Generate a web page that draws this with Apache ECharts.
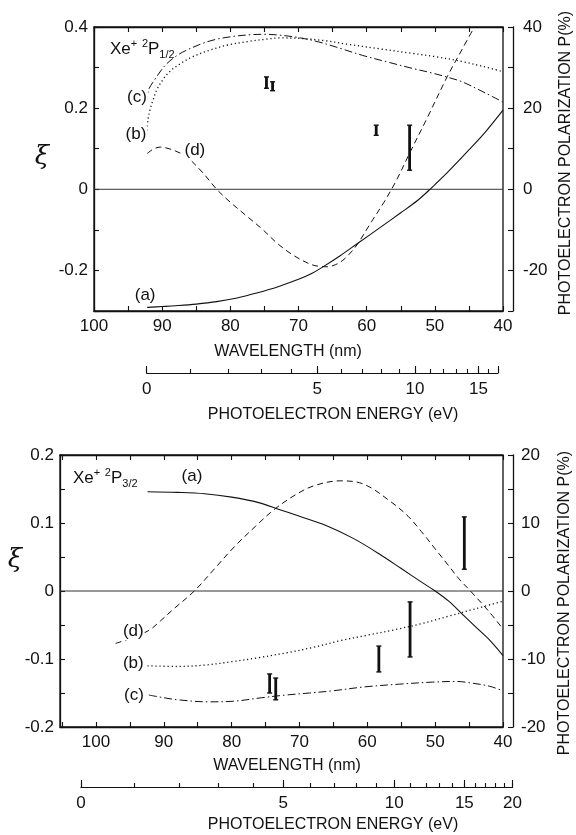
<!DOCTYPE html>
<html><head><meta charset="utf-8">
<script src="https://cdn.jsdelivr.net/npm/echarts@6/dist/echarts.min.js"></script>
<style>html,body{margin:0;padding:0;background:#fff}#c{width:576px;height:835px}</style>
</head><body><div id="c"></div>
<script>
// ---------- data (wavelength nm, xi) ----------
// Top panel: Xe+ 2P1/2
const topWlA = [92.2, 90, 88, 85, 82, 79, 76, 73, 70, 68, 66.3, 64, 61.3, 58, 55, 52.5, 50.7, 48, 45, 42.5, 40];
const topXiA = [-0.291, -0.289, -0.287, -0.283, -0.277, -0.268, -0.255, -0.240, -0.222, -0.207, -0.190, -0.165, -0.133, -0.094, -0.058, -0.027, 0.0, 0.044, 0.097, 0.143, 0.195];
const topWlB = [92.3, 92.1, 91.8, 91.3, 90.8, 89.9, 88.9, 87.3, 85.5, 83, 80.5, 77.5, 74.7, 72.8, 69.8, 66, 63, 58, 53.3, 50, 46, 43, 40];
const topXiB = [0.135, 0.170, 0.195, 0.222, 0.245, 0.270, 0.290, 0.310, 0.327, 0.343, 0.355, 0.364, 0.370, 0.373, 0.372, 0.366, 0.358, 0.346, 0.335, 0.327, 0.315, 0.303, 0.290];
const topWlC = [92.3, 92.0, 91.1, 90.2, 89.3, 87.8, 86.4, 84, 82, 79.5, 77, 75, 72.8, 70, 67, 64, 60.6, 57, 53.3, 50.5, 48.3, 46, 43.5, 41.5, 40];
const topXiC = [0.210, 0.245, 0.270, 0.292, 0.310, 0.330, 0.343, 0.360, 0.370, 0.377, 0.381, 0.382, 0.380, 0.374, 0.363, 0.348, 0.330, 0.314, 0.298, 0.287, 0.277, 0.265, 0.245, 0.228, 0.215];
const topWlD = [92.2, 91.2, 90.2, 89, 88, 86.4, 84, 82, 80, 77.6, 75.2, 73.2, 71, 68.5, 67, 65.8, 64.6, 63.5, 62.4, 61.3, 59.3, 57.5, 55.7, 53.7, 51, 48.2, 46, 44.2];
const topXiD = [0.088, 0.100, 0.104, 0.100, 0.094, 0.080, 0.040, 0.0, -0.032, -0.066, -0.100, -0.132, -0.160, -0.183, -0.190, -0.191, -0.186, -0.175, -0.157, -0.134, -0.080, -0.033, 0.020, 0.089, 0.180, 0.277, 0.345, 0.400];
// error bars [wavelength, low, high]
const topErrWl = [74.7, 73.8, 58.6, 53.7];
const topErrLo = [0.249, 0.243, 0.133, 0.047];
const topErrHi = [0.277, 0.265, 0.158, 0.158];

// Bottom panel: Xe+ 2P3/2
const botWlA = [92.4, 88, 84, 80, 76, 73, 70, 66, 62, 58, 55, 52, 50, 48, 46, 44, 42, 40];
const botXiA = [0.146, 0.145, 0.143, 0.138, 0.130, 0.120, 0.110, 0.096, 0.077, 0.053, 0.033, 0.013, 0.0, -0.015, -0.034, -0.053, -0.072, -0.095];
const botWlB = [92.4, 88, 84, 80, 76, 72, 68, 64, 60, 56, 52, 48, 44, 40];
const botXiB = [-0.110, -0.111, -0.109, -0.104, -0.098, -0.091, -0.083, -0.073, -0.065, -0.057, -0.048, -0.037, -0.026, -0.015];
const botWlC = [92.2, 90, 87.9, 83.5, 79.6, 75.6, 72, 68.5, 65.3, 60.4, 55.3, 50.4, 47, 45.6, 42, 40];
const botXiC = [-0.153, -0.157, -0.160, -0.163, -0.162, -0.157, -0.153, -0.150, -0.147, -0.141, -0.137, -0.134, -0.133, -0.134, -0.140, -0.147];
const botWlD = [97.1, 95, 92.2, 90.5, 88.5, 85.5, 82.5, 79.6, 76.5, 73.7, 70.5, 67.8, 64, 60.5, 56.5, 54, 52, 50, 48, 46.5, 44.8, 42, 40];
const botXiD = [-0.077, -0.070, -0.058, -0.044, -0.026, 0.0, 0.033, 0.065, 0.095, 0.120, 0.142, 0.155, 0.162, 0.157, 0.131, 0.110, 0.087, 0.062, 0.037, 0.018, 0.0, -0.031, -0.056];
const botErrWl = [74.4, 73.5, 58.3, 53.7, 45.7];
const botErrLo = [-0.150, -0.160, -0.119, -0.097, 0.032];
const botErrHi = [-0.122, -0.128, -0.081, -0.016, 0.109];

// axis ticks / labels
const wlTicksTop = [40,45,50,55,60,65,70,75,80,85,90,95,100];
const wlTicksBot = [40,45,50,55,60,65,70,75,80,85,90,95,100,105];
const wlLabels = [40,50,60,70,80,90,100];
const eTicksTop = [0,1,2,3,4,5,6,7,8,9,10,11,12,13,14,15,16,17];
const eMajorTop = [0,5,10,15,17];
const eLabelsTop = [0,5,10,15];
const eTicksBot = [0,1,2,3,4,5,6,7,8,9,10,11,12,13,14,15,16,17,18,19,20];
const eMajorBot = [0,5,10,15,20];
const eLabelsBot = [0,5,10,15,20];
const xiTicksTop = [-0.3,-0.2,-0.1,0,0.1,0.2,0.3,0.4];
const xiLabelsTop = [-0.2,0,0.2,0.4];
const pTicksTop = [-30,-20,-10,0,10,20,30,40];
const pLabelsTop = [-20,0,20,40];
const xiTicksBot = [-0.2,-0.15,-0.1,-0.05,0,0.05,0.1,0.15,0.2];
const xiLabelsBot = [-0.2,-0.1,0,0.1,0.2];
const pTicksBot = [-20,-15,-10,-5,0,5,10,15,20];
const pLabelsBot = [-20,-10,0,10,20];

// curve labels [wavelength, xi, text]
const topLblWl = [93.7, 93.85, 85.2, 92.5];
const topLblXi = [0.227, 0.136, 0.096, -0.262];
const topLblTx = ['(c)', '(b)', '(d)', '(a)'];
const botLblWl = [85.85, 94.5, 94.5, 94.4];
const botLblXi = [0.168, -0.060, -0.107, -0.154];
const botLblTx = ['(a)', '(d)', '(b)', '(c)'];

const IP_TOP = 13.436, IP_BOT = 12.13, HC = 1239.84;
const wlOfE = (E, ip) => HC / (E + ip);

// ---------- layout ----------
const FONT = 'Liberation Sans';
const INK = '#111';
const T = {left: 94, top: 27, width: 409, height: 284, xmin: 40, xmax: 100};
const B = {left: 60, top: 455, width: 443, height: 272, xmin: 40, xmax: 105.3};
const px = (g, w) => g.left + (g.xmax - w) / (g.xmax - g.xmin) * g.width;
const tE0 = px(T, wlOfE(0, IP_TOP)), tE1 = px(T, wlOfE(17, IP_TOP));
const bE0 = px(B, wlOfE(0, IP_BOT)), bE1 = px(B, wlOfE(20, IP_BOT));

const zip = (a, b) => a.map((v, i) => [v, b[i]]);
const lineCommon = {type: 'line', symbol: 'none', showSymbol: false, smooth: 0.35, animation: false, silent: true, z: 3};
const axLine = {show: true, onZero: false, lineStyle: {color: INK, width: 1.3}};
const lbl = (size) => ({color: INK, fontFamily: FONT, fontSize: size});

function wlAxis(grid, g, ticks, pos, showLabels) {
  return {
    type: 'value', gridIndex: grid, min: g.xmin, max: g.xmax, inverse: true, position: pos,
    axisLine: axLine, splitLine: {show: false},
    axisTick: {show: true, inside: true, length: 5, lineStyle: {color: INK, width: 1.1}, customValues: ticks},
    axisLabel: Object.assign({show: showLabels, margin: 7, customValues: wlLabels}, lbl(17))
  };
}
function eAxis(grid, ip, emax, ticks, len, labels, showLine) {
  return {
    type: 'value', gridIndex: grid, min: wlOfE(emax, ip), max: wlOfE(0, ip), inverse: true, position: 'bottom',
    axisLine: {show: showLine, onZero: false, lineStyle: {color: INK, width: 1.2}}, splitLine: {show: false},
    axisTick: {show: true, inside: true, length: len, lineStyle: {color: INK, width: 1.1}, customValues: ticks.map(e => wlOfE(e, ip))},
    axisLabel: Object.assign({show: !!labels, margin: 8, customValues: (labels || []).map(e => wlOfE(e, ip)),
      formatter: v => String(Math.round(HC / v - ip))}, lbl(17))
  };
}
function yAx(grid, min, max, ticks, labels, pos, fmt, margin) {
  return {
    type: 'value', gridIndex: grid, min: min, max: max, position: pos, offset: pos === 'right' ? 10 : 0,
    axisLine: axLine, splitLine: {show: false},
    axisTick: {show: true, inside: true, length: 5, lineStyle: {color: INK, width: 1.1}, customValues: ticks},
    axisLabel: Object.assign({show: true, margin: margin, customValues: labels, formatter: fmt}, lbl(17))
  };
}
const fmtXi = v => (Math.abs(v) < 1e-9 ? '0' : v.toFixed(1));
const fmtP = v => String(Math.round(v));

function curve(xa, ya, wl, xi, dash, width) {
  return Object.assign({}, lineCommon, {xAxisIndex: xa, yAxisIndex: ya, data: zip(wl, xi),
    lineStyle: {color: INK, width: width || 1, type: dash, cap: 'butt'}});
}
function zeroSeries(xa, ya, g) {
  return Object.assign({}, lineCommon, {xAxisIndex: xa, yAxisIndex: ya, smooth: false, z: 2,
    data: [[g.xmin, 0], [g.xmax, 0]], lineStyle: {color: '#333', width: 1, type: 'solid'}});
}
function errSeries(xa, ya, wl, lo, hi) {
  return {
    type: 'custom', xAxisIndex: xa, yAxisIndex: ya, animation: false, silent: true, z: 4,
    data: wl.map((w, i) => [w, lo[i], hi[i]]),
    encode: {x: 0, y: [1, 2]},
    renderItem: (params, api) => {
      const x = api.value(0);
      const a = api.coord([x, api.value(2)]), b = api.coord([x, api.value(1)]);
      const st = {stroke: INK, lineWidth: 1.4};
      return {type: 'group', children: [
        {type: 'line', shape: {x1: a[0], y1: a[1], x2: b[0], y2: b[1]}, style: {stroke: INK, lineWidth: 2.8}},
        {type: 'line', shape: {x1: a[0] - 2.5, y1: a[1], x2: a[0] + 2.5, y2: a[1]}, style: st},
        {type: 'line', shape: {x1: b[0] - 2.5, y1: b[1], x2: b[0] + 2.5, y2: b[1]}, style: st}
      ]};
    }
  };
}
function labelSeries(xa, ya, wl, xi, tx) {
  return {
    type: 'scatter', xAxisIndex: xa, yAxisIndex: ya, symbolSize: 0, animation: false, silent: true, z: 6,
    itemStyle: {opacity: 1, color: INK},
    data: wl.map((w, i) => ({value: [w, xi[i]], name: tx[i]})),
    label: Object.assign({show: true, position: 'inside', formatter: '{b}', opacity: 1,
      backgroundColor: '#fff', padding: [0, 1]}, lbl(17))
  };
}
function titleSeries(xa, ya, w, x, sub) {
  return {
    type: 'scatter', xAxisIndex: xa, yAxisIndex: ya, symbolSize: 0, animation: false, silent: true, z: 6,
    itemStyle: {opacity: 1, color: INK},
    data: [{value: [w, x], name: sub}],
    label: {show: true, position: 'right', distance: 0, opacity: 1,
      formatter: p => '{m|Xe}{s|+}{m| }{s|2}{m|P}{b|' + p.name + '}',
      rich: {
        m: {fontFamily: FONT, fontSize: 17, color: INK, lineHeight: 22, verticalAlign: 'middle'},
        s: {fontFamily: FONT, fontSize: 11, color: INK, lineHeight: 11, verticalAlign: 'top'},
        b: {fontFamily: FONT, fontSize: 11, color: INK, lineHeight: 11, verticalAlign: 'bottom'}
      }}
  };
}

const DASH = [6, 4], DOT = [1.2, 2.8], DASHDOT = [8, 3, 1.5, 3];

const option = {
  backgroundColor: '#fff',
  animation: false,
  grid: [
    {left: T.left, top: T.top, width: T.width, height: T.height, show: true, borderColor: INK, borderWidth: 1.3, backgroundColor: 'transparent'},
    {left: tE0, top: 363, width: tE1 - tE0, height: 10},
    {left: B.left, top: B.top, width: B.width, height: B.height, show: true, borderColor: INK, borderWidth: 1.3, backgroundColor: 'transparent'},
    {left: bE0, top: 777, width: bE1 - bE0, height: 10}
  ],
  xAxis: [
    wlAxis(0, T, wlTicksTop, 'bottom', true),
    wlAxis(0, T, wlTicksTop, 'top', false),
    eAxis(1, IP_TOP, 17, eTicksTop, 4, null, true),
    eAxis(1, IP_TOP, 17, eMajorTop, 7, eLabelsTop, false),
    wlAxis(2, B, wlTicksBot, 'bottom', true),
    wlAxis(2, B, wlTicksBot, 'top', false),
    eAxis(3, IP_BOT, 20, eTicksBot, 4, null, true),
    eAxis(3, IP_BOT, 20, eMajorBot, 7, eLabelsBot, false)
  ],
  yAxis: [
    yAx(0, -0.3, 0.4, xiTicksTop, xiLabelsTop, 'left', fmtXi, 6),
    yAx(0, -30, 40, pTicksTop, pLabelsTop, 'right', fmtP, 10),
    {type: 'value', gridIndex: 1, show: false, min: 0, max: 1},
    yAx(2, -0.2, 0.2, xiTicksBot, xiLabelsBot, 'left', fmtXi, 6),
    yAx(2, -20, 20, pTicksBot, pLabelsBot, 'right', fmtP, 8),
    {type: 'value', gridIndex: 3, show: false, min: 0, max: 1}
  ],
  series: [
    zeroSeries(0, 0, T),
    curve(0, 0, topWlA, topXiA, 'solid', 1.1),
    curve(0, 0, topWlB, topXiB, DOT, 1.3),
    curve(0, 0, topWlC, topXiC, DASHDOT, 1),
    curve(0, 0, topWlD, topXiD, DASH, 1),
    errSeries(0, 0, topErrWl, topErrLo, topErrHi),
    labelSeries(0, 0, topLblWl, topLblXi, topLblTx),
    titleSeries(0, 0, 97.66, 0.345, '1/2'),
    zeroSeries(4, 3, B),
    curve(4, 3, botWlA, botXiA, 'solid', 1.1),
    curve(4, 3, botWlB, botXiB, DOT, 1.3),
    curve(4, 3, botWlC, botXiC, DASHDOT, 1),
    curve(4, 3, botWlD, botXiD, DASH, 1),
    errSeries(4, 3, botErrWl, botErrLo, botErrHi),
    labelSeries(4, 3, botLblWl, botLblXi, botLblTx),
    titleSeries(4, 3, 103.4, 0.165, '3/2')
  ],
  graphic: [
    {type: 'text', x: 288, y: 352, style: {text: 'WAVELENGTH (nm)', fontFamily: FONT, fontSize: 16, fill: INK, align: 'center', verticalAlign: 'middle'}},
    {type: 'text', x: 333, y: 415, style: {text: 'PHOTOELECTRON ENERGY (eV)', fontFamily: FONT, fontSize: 16, fill: INK, align: 'center', verticalAlign: 'middle'}},
    {type: 'text', x: 287, y: 766, style: {text: 'WAVELENGTH (nm)', fontFamily: FONT, fontSize: 16, fill: INK, align: 'center', verticalAlign: 'middle'}},
    {type: 'text', x: 333, y: 825, style: {text: 'PHOTOELECTRON ENERGY (eV)', fontFamily: FONT, fontSize: 16, fill: INK, align: 'center', verticalAlign: 'middle'}},
    {type: 'text', x: 566, y: 163, rotation: Math.PI / 2, style: {text: 'PHOTOELECTRON POLARIZATION P(%)', fontFamily: FONT, fontSize: 16, fill: INK, align: 'center', verticalAlign: 'middle'}},
    {type: 'text', x: 565, y: 603, rotation: Math.PI / 2, style: {text: 'PHOTOELECTRON POLARIZATION P(%)', fontFamily: FONT, fontSize: 16, fill: INK, align: 'center', verticalAlign: 'middle'}},
    {type: 'text', x: 42, y: 157, style: {text: 'ξ', fontFamily: 'DejaVu Serif', fontSize: 26, fontStyle: 'italic', fill: INK, align: 'center', verticalAlign: 'middle'}},
    {type: 'text', x: 15, y: 560, style: {text: 'ξ', fontFamily: 'DejaVu Serif', fontSize: 26, fontStyle: 'italic', fill: INK, align: 'center', verticalAlign: 'middle'}}
  ]
};
const chart = echarts.init(document.getElementById('c'), null, {renderer: 'canvas'});
chart.setOption(option);
</script>
</body></html>
